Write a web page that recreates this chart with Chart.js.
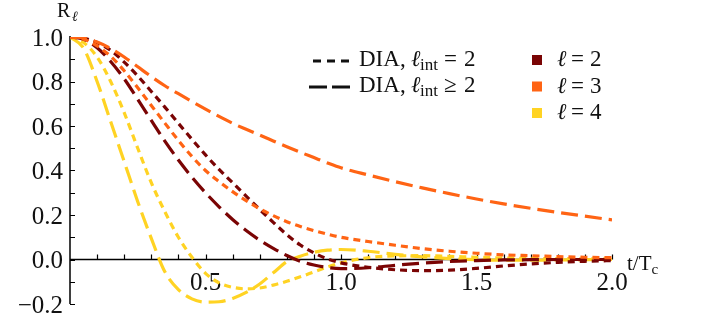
<!DOCTYPE html>
<html>
<head>
<meta charset="utf-8">
<script src="https://cdn.jsdelivr.net/npm/chart.js@4"></script>
<style>
  html, body { margin: 0; padding: 0; background: #fff; }
  #wrap { width: 705px; height: 320px; }
</style>
</head>
<body>
<div id="wrap"><canvas id="chartcontainer" width="705" height="320"></canvas></div>
<script>
// t/Tc sampling
var tValues = [0, 0.05, 0.1, 0.15, 0.2, 0.25, 0.3, 0.35, 0.4, 0.45, 0.5, 0.55, 0.6, 0.65, 0.7, 0.75, 0.8, 0.85, 0.9, 0.95, 1.0,
  1.1, 1.2, 1.3, 1.4, 1.5, 1.6, 1.7, 1.8, 1.9, 2.0];

// R_l, DIA with l_int = 2 (short dashes)
var r2Int2 = [1, 0.995, 0.975, 0.94, 0.887, 0.825, 0.755, 0.685, 0.612, 0.54, 0.47, 0.405, 0.345, 0.285, 0.225, 0.167, 0.112, 0.065, 0.03, 0.003, -0.015,
  -0.035, -0.046, -0.05, -0.048, -0.04, -0.029, -0.02, -0.013, -0.008, -0.005];
var r3Int2 = [1, 0.99, 0.96, 0.913, 0.848, 0.772, 0.692, 0.613, 0.535, 0.463, 0.40, 0.35, 0.305, 0.265, 0.228, 0.197, 0.17, 0.148, 0.13, 0.114, 0.10,
  0.081, 0.064, 0.049, 0.037, 0.028, 0.021, 0.017, 0.013, 0.01, 0.008];
var r4Int2 = [1, 0.975, 0.91, 0.80, 0.66, 0.50, 0.345, 0.215, 0.10, 0.01, -0.062, -0.105, -0.125, -0.132, -0.128, -0.115, -0.098, -0.078, -0.056, -0.034, -0.015,
  0.008, 0.016, 0.017, 0.014, 0.01, 0.007, 0.005, 0.004, 0.003, 0.003];

// R_l, DIA with l_int >= 2 (long dashes)
var r2IntAll = [1, 0.99, 0.952, 0.89, 0.812, 0.72, 0.625, 0.532, 0.447, 0.37, 0.30, 0.237, 0.18, 0.13, 0.087, 0.05, 0.018, -0.008, -0.025, -0.036, -0.041,
  -0.037, -0.026, -0.016, -0.009, -0.005, -0.002, -0.001, 0, 0, 0];
var r3IntAll = [1, 0.995, 0.977, 0.948, 0.91, 0.866, 0.822, 0.781, 0.745, 0.71, 0.676, 0.643, 0.612, 0.585, 0.559, 0.533, 0.507, 0.482, 0.458, 0.434, 0.412,
  0.38, 0.35, 0.322, 0.296, 0.272, 0.25, 0.23, 0.212, 0.195, 0.178];
var r4IntAll = [1, 0.95, 0.80, 0.62, 0.44, 0.26, 0.095, -0.055, -0.135, -0.177, -0.192, -0.19, -0.175, -0.148, -0.11, -0.06, -0.01, 0.015, 0.032, 0.042, 0.045,
  0.037, 0.023, 0.012, 0.004, -0.001, -0.003, -0.003, -0.002, -0.001, 0];

// axes ticks
var xMinorTicks = [0.1, 0.2, 0.3, 0.4, 0.5, 0.6, 0.7, 0.8, 0.9, 1.0, 1.1, 1.2, 1.3, 1.4, 1.5, 1.6, 1.7, 1.8, 1.9, 2.0];
var xTickLabels = ["0.5", "1.0", "1.5", "2.0"];
var yMinorTicks = [-0.2, -0.1, 0, 0.1, 0.2, 0.3, 0.4, 0.5, 0.6, 0.7, 0.8, 0.9, 1.0];
var yTickLabels = ["\u22120.2", "0.0", "0.2", "0.4", "0.6", "0.8", "1.0"];

var legendLabels = ["2", "3", "4"];

var colL2 = "#7a0404";
var colL3 = "#ff6414";
var colL4 = "#ffd323";
var shortDash = [7, 5];
var longDash = [17, 7];
var SERIF = "'Liberation Serif', 'Times New Roman', serif";

function pts(arr) {
  return tValues.map(function(t, i) { return { x: t, y: arr[i] }; });
}

function ds(arr, color, dash) {
  return {
    data: pts(arr),
    borderColor: color,
    borderWidth: 3.2,
    borderDash: dash,
    borderCapStyle: "butt",
    pointRadius: 0,
    fill: false,
    cubicInterpolationMode: "monotone"
  };
}

// axes through the origin, tick labels, captions and the legend
var axesPlugin = {
  id: "mmaAxes",
  beforeDatasetsDraw: function(chart) {
    var ctx = chart.ctx;
    var xs = chart.scales.x, ys = chart.scales.y;
    var x0 = xs.getPixelForValue(0), y0 = ys.getPixelForValue(0);
    ctx.save();
    ctx.strokeStyle = "#000";
    ctx.lineWidth = 1.5;
    ctx.beginPath();
    ctx.moveTo(x0, ys.getPixelForValue(1.0) - 1);
    ctx.lineTo(x0, ys.getPixelForValue(-0.2));
    ctx.moveTo(x0, y0);
    ctx.lineTo(xs.getPixelForValue(2.0), y0);
    ctx.stroke();
    ctx.lineWidth = 1.2;
    ctx.beginPath();
    yMinorTicks.forEach(function(v) {
      var y = Math.round(ys.getPixelForValue(v)) + 0.5;
      ctx.moveTo(x0, y); ctx.lineTo(x0 + 5, y);
    });
    xMinorTicks.forEach(function(v) {
      var x = Math.round(xs.getPixelForValue(v)) + 0.5;
      ctx.moveTo(x, y0); ctx.lineTo(x, y0 - 5);
    });
    ctx.stroke();

    ctx.fillStyle = "#111";
    ctx.font = "25px " + SERIF;
    ctx.textAlign = "right";
    ctx.textBaseline = "alphabetic";
    yTickLabels.forEach(function(s) {
      var v = parseFloat(s.replace("\u2212", "-"));
      ctx.fillText(s, x0 - 7, ys.getPixelForValue(v) + 8.5);
    });
    ctx.textAlign = "center";
    xTickLabels.forEach(function(s) {
      ctx.fillText(s, xs.getPixelForValue(parseFloat(s)), y0 + 30);
    });

    // axis captions
    ctx.textAlign = "left";
    ctx.font = "20px " + SERIF;
    ctx.fillText("R", 57, 17);
    ctx.font = "italic 14px " + SERIF;
    ctx.fillText("\u2113", 72, 21);
    ctx.font = "21px " + SERIF;
    ctx.fillText("t/T", 627, 270);
    var w = ctx.measureText("t/T").width;
    ctx.font = "15px " + SERIF;
    ctx.fillText("c", 627 + w, 274);
    ctx.restore();
  },
  afterDraw: function(chart) {
    var ctx = chart.ctx;
    ctx.save();
    ctx.fillStyle = "#111";
    ctx.strokeStyle = "#111";
    ctx.lineWidth = 3.2;
    ctx.textBaseline = "alphabetic";
    ctx.textAlign = "left";
    // line-style legend
    var rows = [{ dash: [8, 6], x1: 313, rel: "=", y: 66 }, { dash: [18, 5], x1: 309, rel: "\u2265", y: 92 }];
    rows.forEach(function(r) {
      ctx.setLineDash(r.dash);
      ctx.beginPath();
      ctx.moveTo(r.x1, r.y - 5);
      ctx.lineTo(352, r.y - 5);
      ctx.stroke();
      ctx.setLineDash([]);
      ctx.font = "23px " + SERIF;
      ctx.fillText("DIA,", 359, r.y);
      ctx.font = "italic 23px " + SERIF;
      ctx.fillText("\u2113", 411, r.y);
      ctx.font = "17px " + SERIF;
      ctx.fillText("int", 420, r.y + 4);
      ctx.font = "23px " + SERIF;
      ctx.fillText(r.rel, 444, r.y);
      ctx.fillText("2", 464, r.y);
    });
    // colour legend
    var cols = [colL2, colL3, colL4];
    legendLabels.forEach(function(lab, i) {
      var y = 66 + i * 26.5;
      ctx.fillStyle = cols[i];
      ctx.fillRect(532, y - 11, 10, 10);
      ctx.fillStyle = "#111";
      ctx.font = "italic 23px " + SERIF;
      ctx.fillText("\u2113", 557, y);
      ctx.font = "23px " + SERIF;
      ctx.fillText("=", 571, y);
      ctx.fillText(lab, 590, y);
    });
    ctx.restore();
  }
};

var ctx = document.getElementById("chartcontainer").getContext("2d");
var chart = new Chart(ctx, {
  type: "line",
  data: {
    datasets: [
      ds(r3IntAll, colL3, longDash),
      ds(r3Int2, colL3, shortDash),
      ds(r2Int2, colL2, shortDash),
      ds(r2IntAll, colL2, longDash),
      ds(r4Int2, colL4, shortDash),
      ds(r4IntAll, colL4, longDash)
    ]
  },
  options: {
    responsive: false,
    animation: false,
    devicePixelRatio: 1,
    layout: { padding: { left: 70, right: 93, top: 37, bottom: 16 } },
    plugins: { legend: { display: false }, tooltip: { enabled: false } },
    scales: {
      x: { type: "linear", min: 0, max: 2, display: false },
      y: { type: "linear", min: -0.2, max: 1.0, display: false }
    },
    elements: { line: { clip: false } }
  },
  plugins: [axesPlugin]
});
</script>
</body>
</html>
